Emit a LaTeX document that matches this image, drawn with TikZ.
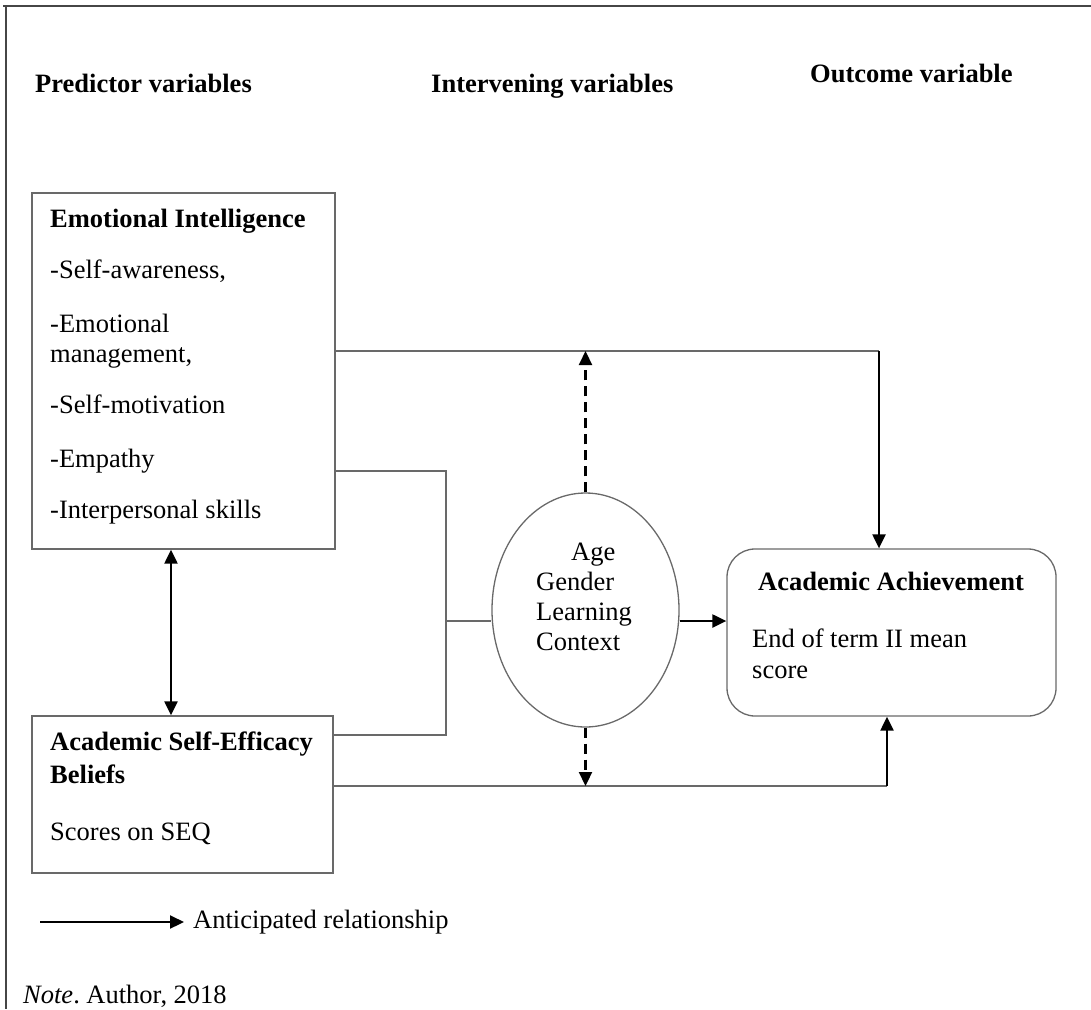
\documentclass[tikz,border=0pt]{standalone}
\usepackage{fontspec}
\setmainfont{Liberation Serif}
\usetikzlibrary{arrows.meta,shapes.geometric}

\begin{document}
\begin{tikzpicture}[x=1pt,y=-1pt,
  font=\fontsize{26.5}{30}\selectfont,
  frame/.style={draw=framegray,line width=1.6pt},
  box/.style={draw=boxgray,line width=1.3pt,inner sep=0pt},
  txt/.style={anchor=base west,align=left,inner sep=0pt},
  link/.style={draw=boxgray,line width=1.3pt},
  arr/.style={-{Triangle[length=14pt,width=13pt]},line width=2.2pt,draw=black},
  dasharr/.style={arr,dash pattern=on 10pt off 6pt},
  dblarr/.style={{Triangle[length=14pt,width=13pt]}-{Triangle[length=14pt,width=13pt]},line width=2.2pt,draw=black}]
\definecolor{boxgray}{RGB}{105,105,105}
\definecolor{framegray}{RGB}{70,70,70}
\useasboundingbox (0,0) rectangle (1091,1009);
\draw [frame] (3,6) -- (1091,6);
\draw [frame] (6,6) -- (6,1009);
% headings
\node [txt,font=\fontsize{26.5}{30}\selectfont\bfseries] (predhead) at (35,92) {Predictor variables};
\node [txt,font=\fontsize{26.5}{30}\selectfont\bfseries] (intvhead) at (431,92) {Intervening variables};
\node [txt,font=\fontsize{26.5}{30}\selectfont\bfseries] (outchead) at (810,82) {Outcome variable};
% boxes (text nodes sit on the baseline of their last line)
\node [box,minimum width=303pt,minimum height=356pt] (ei) at (183.5,371) {};
\node [txt] (eitext) at (50,518) {\textbf{Emotional Intelligence}\\[21pt]
  -Self-awareness,\\[24pt]
  -Emotional\\
  management,\\[21pt]
  -Self-motivation\\[24pt]
  -Empathy\\[21pt]
  -Interpersonal skills};
\node [box,minimum width=301pt,minimum height=157pt] (ase) at (182.5,794.5) {};
\node [txt] (asetext) at (50,840) {\textbf{Academic Self-Efficacy}\\[3pt]
  \textbf{Beliefs}\\[27pt]
  Scores on SEQ};
\node [box,ellipse,minimum width=187pt,minimum height=234pt] (mod) at (585.5,610) {};
\node [txt] (modtext) at (536,650) {\hspace*{35pt}Age\\Gender\\Learning\\Context};
\node [box,rounded corners=28pt,minimum width=329pt,minimum height=167pt] (aa) at (891.5,632.5) {};
\node [txt] (aatext) at (752,678) {\hspace*{6pt}\textbf{Academic Achievement}\\[27pt]
  End of term II mean\\[1pt]
  score};
% junctions
\coordinate (topjoin) at (879,351);
\coordinate (midjoin) at (446,471);
\coordinate (modin) at (446,621);
\coordinate (lowjoin) at (446,735);
\coordinate (botjoin) at (887,786);
\coordinate (eiase) at (171,632);
% connectors
\draw [link] (ei.east |- topjoin) -- (topjoin);
\draw [arr] (topjoin) -- (aa.north -| topjoin);
\draw [dasharr] (mod.north) -- (mod.north |- topjoin);
\draw [link] (ei.east |- midjoin) -- (midjoin) -- (lowjoin) -- (ase.east |- lowjoin);
\draw [link] (modin) -- (modin -| mod.west);
\draw [arr] (modin -| mod.east) -- (modin -| aa.west);
\draw [link] (ase.east |- botjoin) -- (botjoin);
\draw [arr] (botjoin) -- (botjoin |- aa.south);
\draw [dasharr] (mod.south) -- (mod.south |- botjoin);
\draw [dblarr] (ei.south -| eiase) -- (ase.north -| eiase);
% legend
\coordinate (legstart) at (40,922);
\node [txt,anchor=west] (legtext) at (193,922) {Anticipated relationship};
\draw [arr] (legstart) -- ([xshift=-9pt]legtext.west);
\node [txt] (note) at (23,1003) {\textit{Note}.\ Author, 2018};
\end{tikzpicture}
\end{document}
